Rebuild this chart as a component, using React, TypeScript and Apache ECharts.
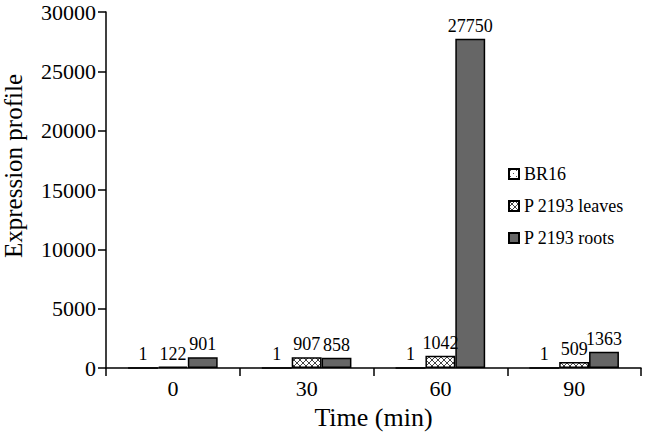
import React, { useEffect, useRef } from "react";
import * as echarts from "echarts";

const categories = ["0", "30", "60", "90"];
const seriesNames = ["BR16", "P 2193 leaves", "P 2193 roots"];
const br16 = [1, 1, 1, 1];
const leaves = [122, 907, 1042, 509];
const roots = [901, 858, 27750, 1363];
const yTicks = { min: 0, max: 30000, interval: 5000 };

function makePattern(kind: string): string {
  const c = document.createElement("canvas");
  const s = 6;
  c.width = s;
  c.height = s;
  const ctx = c.getContext("2d")!;
  ctx.fillStyle = "#ffffff";
  ctx.fillRect(0, 0, s, s);
  if (kind === "dots") {
    ctx.fillStyle = "#555";
    ctx.fillRect(1, 1, 1, 1);
    ctx.fillRect(4, 4, 1, 1);
  } else {
    ctx.strokeStyle = "#444";
    ctx.lineWidth = 1;
    ctx.beginPath();
    ctx.moveTo(0, 0);
    ctx.lineTo(s, s);
    ctx.moveTo(s, 0);
    ctx.lineTo(0, s);
    ctx.stroke();
  }
  return c.toDataURL();
}

export default function App() {
  const ref = useRef<HTMLDivElement>(null);
  useEffect(() => {
    if (!ref.current) return;
    const chart = echarts.init(ref.current, undefined, { renderer: "svg" });
    const font = "Liberation Serif";
    const dotImg = new Image();
    dotImg.src = makePattern("dots");
    const hatchImg = new Image();
    hatchImg.src = makePattern("hatch");
    const fills: any[] = [
      { image: dotImg, repeat: "repeat" },
      { image: hatchImg, repeat: "repeat" },
      "#666666",
    ];
    const datas = [br16, leaves, roots];
    chart.setOption({
      animation: false,
      backgroundColor: "#ffffff",
      textStyle: { fontFamily: font, color: "#000" },
      grid: { left: 106, right: 4, top: 12, bottom: 72, outerBoundsMode: "none", containLabel: false },
      legend: {
        orient: "vertical",
        left: 503,
        top: 160,
        itemWidth: 10,
        itemHeight: 10,
        itemGap: 14,
        icon: "rect",
        data: seriesNames,
        textStyle: { fontFamily: font, fontSize: 18, color: "#000" },
      },
      xAxis: {
        type: "category",
        data: categories,
        name: "Time (min)",
        nameLocation: "middle",
        nameGap: 36,
        nameTextStyle: { fontFamily: font, fontSize: 26, color: "#000" },
        axisLine: { lineStyle: { color: "#000", width: 1.5 } },
        axisTick: { show: true, length: 8, lineStyle: { color: "#000", width: 1.5 } },
        axisLabel: { fontFamily: font, fontSize: 22, color: "#000", margin: 9 },
      },
      yAxis: {
        type: "value",
        min: yTicks.min,
        max: yTicks.max,
        interval: yTicks.interval,
        name: "Expression profile",
        nameLocation: "middle",
        nameGap: 80,
        nameTextStyle: { fontFamily: font, fontSize: 25, color: "#000", padding: [0, 0, 0, 48] },
        axisLine: { show: true, lineStyle: { color: "#000", width: 1.5 } },
        axisTick: { show: true, length: 8, lineStyle: { color: "#000", width: 1.5 } },
        axisLabel: {
          fontFamily: font,
          fontSize: 22,
          lineHeight: 18,
          color: "#000",
          margin: 10,
          formatter: (v: number) => String(v),
        },
        splitLine: { show: false },
      },
      series: seriesNames.map((n, i) => ({
        name: n,
        type: "bar",
        data: datas[i],
        barGap: "0%",
        barCategoryGap: "33%",
        itemStyle: { color: fills[i], borderColor: "#000", borderWidth: 1.5 },
        label: {
          show: true,
          position: "top",
          distance: 4,
          fontFamily: font,
          fontSize: 18,
          color: "#000",
        },
      })),
    });
    const t = setTimeout(() => chart.setOption({}), 50);
    return () => {
      clearTimeout(t);
      chart.dispose();
    };
  }, []);
  return <div ref={ref} style={{ width: 645, height: 440, position: "absolute", left: 0, top: 0 }} />;
}
